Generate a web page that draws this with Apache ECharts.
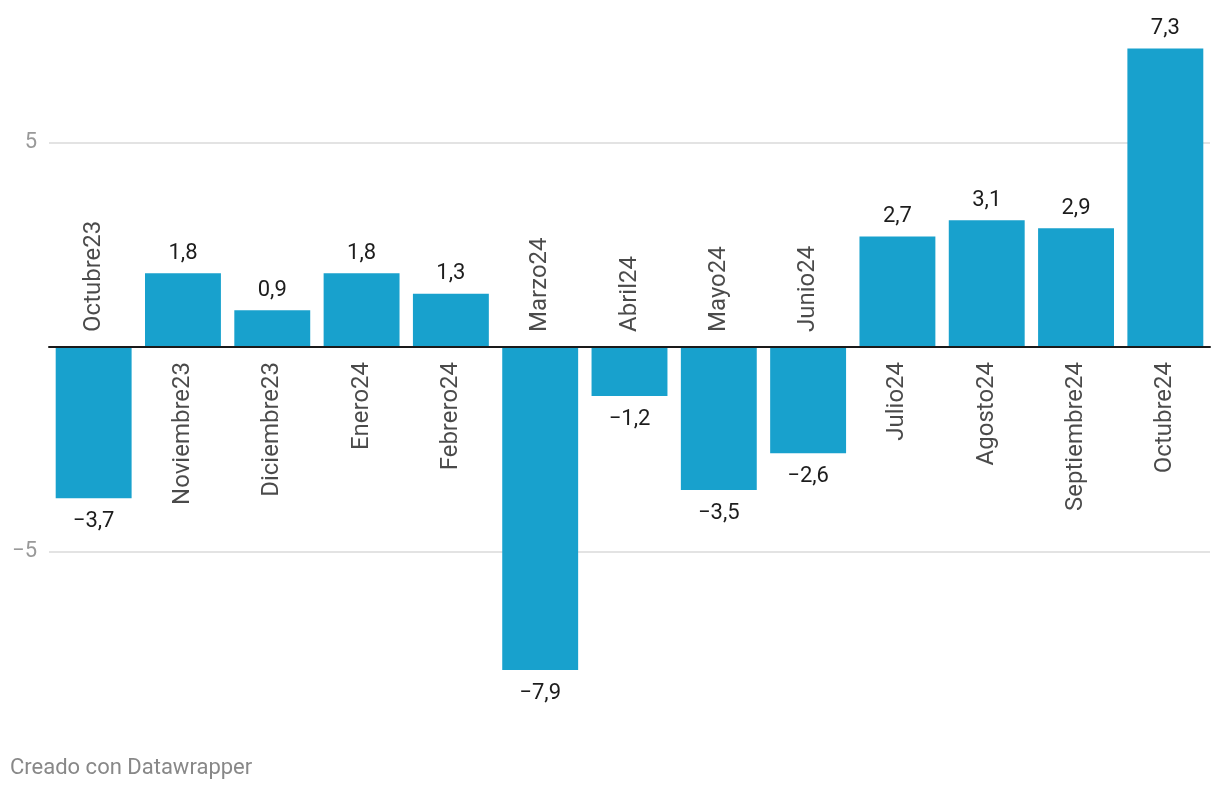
<!DOCTYPE html>
<html>
<head>
<meta charset="utf-8">
<script src="https://cdn.jsdelivr.net/npm/echarts@6/dist/echarts.min.js"></script>
<style>
  html, body { margin: 0; padding: 0; background: #fff; }
  #chart { width: 1220px; height: 790px; }
</style>
</head>
<body>
<div id="chart"></div>
<script>
const categories = ['Octubre23','Noviembre23','Diciembre23','Enero24','Febrero24','Marzo24','Abril24','Mayo24','Junio24','Julio24','Agosto24','Septiembre24','Octubre24'];
const values = [-3.7, 1.8, 0.9, 1.8, 1.3, -7.9, -1.2, -3.5, -2.6, 2.7, 3.1, 2.9, 7.3];
const yTickLabels = [-5, 5];

const fmt = v => v.toFixed(1).replace('.', ',').replace('-', '\u2212');
const FONT = 'Roboto, "Noto Sans", sans-serif';

const chart = echarts.init(document.getElementById('chart'), null, { renderer: 'canvas' });

chart.setOption({
  animation: false,
  backgroundColor: '#ffffff',
  textStyle: { fontFamily: FONT },
  grid: { left: 49, right: 10, top: 30, bottom: 75, containLabel: false },
  graphic: [{
    type: 'text', left: 10, top: 757,
    style: { text: 'Creado con Datawrapper', fill: '#888888', font: '22px ' + FONT }
  }],
  xAxis: {
    type: 'category',
    data: categories,
    axisLine: { show: true, onZero: true, lineStyle: { color: '#1a1a1a', width: 2 } },
    axisTick: { show: false },
    axisLabel: { show: false },
    splitLine: { show: false },
    z: 10
  },
  yAxis: {
    type: 'value',
    min: -9,
    max: 7.75,
    axisLine: { show: false },
    axisTick: { show: false },
    splitLine: { show: false },
    axisLabel: {
      customValues: yTickLabels,
      color: '#999999',
      fontSize: 22,
      fontFamily: FONT,
      margin: 12,
      formatter: v => String(v).replace('-', '\u2212')
    }
  },
  series: [
    {
      type: 'bar',
      z: 2,
      data: values.map(v => ({
        value: v,
        label: {
          show: true,
          position: v >= 0 ? 'top' : 'bottom',
          distance: v >= 0 ? 9 : 12,
          formatter: p => fmt(p.value),
          color: '#1d1d1d',
          fontSize: 22,
          fontFamily: FONT
        }
      })),
      barCategoryGap: '15%',
      itemStyle: { color: '#18a1cd' },
      markLine: {
        silent: true,
        z: 1,
        symbol: 'none',
        label: { show: false },
        lineStyle: { color: '#e3e3e3', width: 2, type: 'solid' },
        data: yTickLabels.map(t => ({ yAxis: t }))
      }
    },
    {
      type: 'scatter',
      symbolSize: 0,
      silent: true,
      z: 3,
      data: values.map((v, i) => ({
        value: [categories[i], 0],
        label: {
          show: true,
          position: v >= 0 ? 'bottom' : 'top',
          distance: 15,
          rotate: 90,
          align: v >= 0 ? 'right' : 'left',
          verticalAlign: 'middle',
          formatter: () => categories[i],
          color: '#1d1d1d',
          fontSize: 24,
          fontFamily: FONT
        }
      }))
    }
  ]
});
</script>
</body>
</html>
